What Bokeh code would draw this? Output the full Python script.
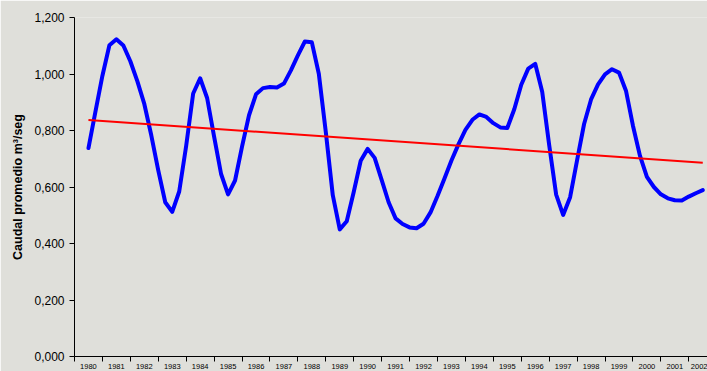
from bokeh.plotting import figure
from bokeh.models import FixedTicker, Range1d
from bokeh.embed import file_html
from bokeh.resources import INLINE

# Quarterly sample times (years) and mean flow values
years = [1980 + q / 4 for q in range(89)]
caudal = [
    0.738, 0.867, 0.994, 1.102, 1.123, 1.101, 1.045, 0.975, 0.894,
    0.783, 0.659, 0.546, 0.512, 0.584, 0.746, 0.931, 0.985,
    0.915, 0.778, 0.646, 0.574, 0.623, 0.743, 0.854, 0.928,
    0.950, 0.954, 0.952, 0.966, 1.013, 1.066, 1.115, 1.112,
    1.001, 0.795, 0.571, 0.450, 0.479, 0.582, 0.693, 0.735,
    0.703, 0.625, 0.546, 0.489, 0.469, 0.457, 0.454, 0.470,
    0.510, 0.568, 0.630, 0.694, 0.751, 0.802, 0.838, 0.857,
    0.848, 0.826, 0.811, 0.809, 0.875, 0.962, 1.019, 1.036,
    0.937, 0.749, 0.573, 0.501, 0.564, 0.695, 0.823, 0.910,
    0.963, 0.999, 1.017, 1.005, 0.941, 0.817, 0.711, 0.636,
    0.600, 0.574, 0.560, 0.553, 0.552, 0.566, 0.578, 0.589,
]

# Linear trend line end points
trend_years = [1980, 2002]
trend_values = [0.837, 0.686]

# Category (year) ticks and labels
year_ticks = list(range(1980, 2003))
year_labels = [str(y) for y in year_ticks]
year_bounds = [y - 0.5 for y in year_ticks] + [2002.5]

y_ticks = [0.0, 0.2, 0.4, 0.6, 0.8, 1.0, 1.2]
y_tick_labels = ["0,000", "0,200", "0,400", "0,600", "0,800", "1,000", "1,200"]

BG = "#dfdfda"
FONT = "Liberation Sans"

p = figure(
    width=707, height=371,
    output_backend="svg", toolbar_location=None,
    x_range=Range1d(1979.5, 2002.17), y_range=Range1d(0, 1.2),
    min_border_left=74, min_border_top=17, min_border_right=0, min_border_bottom=13,
    background_fill_color=BG, border_fill_color=BG, outline_line_color=None,
)
p.grid.visible = False

p.line(years, caudal, line_color="#0000ff", line_width=4,
       line_join="round", line_cap="round")
p.line(trend_years, trend_values, line_color="#ff0000", line_width=2)

# X axis: labels at category centres, tick marks at category boundaries
xa = p.xaxis[0]
xa.ticker = FixedTicker(ticks=year_ticks, minor_ticks=year_bounds)
xa.major_label_overrides = {float(t): l for t, l in zip(year_ticks, year_labels)}
xa.major_tick_in = 0
xa.major_tick_out = 0
xa.minor_tick_in = 0
xa.minor_tick_out = 5
xa.major_label_standoff = 2
xa.major_label_text_font = FONT
xa.major_label_text_font_size = "7.5px"
xa.major_label_text_color = "#000000"
xa.axis_line_color = "#000000"
xa.minor_tick_line_color = "#000000"

# Y axis
ya = p.yaxis[0]
ya.ticker = FixedTicker(ticks=y_ticks)
ya.major_label_overrides = dict(zip(y_ticks, y_tick_labels))
ya.major_tick_in = 0
ya.major_tick_out = 5
ya.minor_tick_out = 0
ya.major_label_standoff = 5
ya.major_label_text_font = FONT
ya.major_label_text_font_size = "12px"
ya.major_label_text_color = "#000000"
ya.axis_line_color = "#000000"
ya.major_tick_line_color = "#000000"
ya.axis_label = "Caudal promedio m³/seg"
ya.axis_label_text_font = FONT
ya.axis_label_text_font_size = "12.5px"
ya.axis_label_text_font_style = "bold"
ya.axis_label_text_color = "#000000"
ya.axis_label_standoff = 6

open("out.html", "w").write(file_html(p, INLINE))
